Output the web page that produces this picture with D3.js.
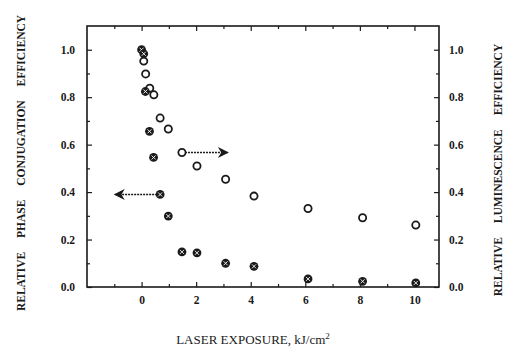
<!DOCTYPE html>
<html><head><meta charset="utf-8">
<script src="https://cdn.jsdelivr.net/npm/d3@7"></script>
<style>body{margin:0;background:#fff}svg{display:block}</style>
</head><body><svg id="c" width="506" height="350"></svg>
<script>
// Data
const phaseX = [0.0, 0.08, 0.14, 0.29, 0.44, 0.68, 0.98, 1.48, 2.03, 3.08, 4.12, 6.1, 8.1, 10.05];
const phaseY = [1.0, 0.983, 0.824, 0.656, 0.546, 0.39, 0.299, 0.148, 0.144, 0.10, 0.087, 0.034, 0.024, 0.017];
const lumX = [0.08, 0.15, 0.3, 0.45, 0.68, 0.98, 1.48, 2.03, 3.08, 4.12, 6.1, 8.1, 10.05];
const lumY = [0.952, 0.898, 0.838, 0.81, 0.712, 0.666, 0.567, 0.51, 0.454, 0.383, 0.331, 0.292, 0.261];
const xTicks = [0, 2, 4, 6, 8, 10];
const xMinor = [-1, 1, 3, 5, 7, 9];
const yTicks = [0.0, 0.2, 0.4, 0.6, 0.8, 1.0];
const yMinor = [0.1, 0.3, 0.5, 0.7, 0.9];
// arrows: [fromX, fromY, toX]
const arrowLeft = [0.68, 0.39, -0.98];
const arrowRight = [1.48, 0.567, 3.16];

const L = 87, R = 439, T = 26, B = 287;
const x = d3.scaleLinear().domain([-2, 10.9]).range([L, R]);
const y = d3.scaleLinear().domain([0, 1.1]).range([B, T]);
const svg = d3.select("#c");
const font = "'Liberation Serif', 'DejaVu Serif', serif";
const ink = "#1a1a1a";

svg.append("rect").attr("x", L).attr("y", T).attr("width", R - L).attr("height", B - T)
  .attr("fill", "none").attr("stroke", ink).attr("stroke-width", 1.6);

function fmtY(d){ return d.toFixed(1); }
// bottom
svg.append("g").attr("transform", `translate(0,${B})`)
  .call(d3.axisBottom(x).tickValues(xTicks).tickSizeInner(-5).tickSizeOuter(0).tickPadding(9).tickFormat(d3.format("d")));
svg.append("g").attr("transform", `translate(0,${B})`)
  .call(d3.axisBottom(x).tickValues(xMinor).tickSizeInner(-3).tickSizeOuter(0).tickFormat(""));
// top
svg.append("g").attr("transform", `translate(0,${T})`)
  .call(d3.axisTop(x).tickValues(xTicks).tickSizeInner(-5).tickSizeOuter(0).tickFormat(""));
svg.append("g").attr("transform", `translate(0,${T})`)
  .call(d3.axisTop(x).tickValues(xMinor).tickSizeInner(-3).tickSizeOuter(0).tickFormat(""));
// left
svg.append("g").attr("transform", `translate(${L},0)`)
  .call(d3.axisLeft(y).tickValues(yTicks).tickSizeInner(-5).tickSizeOuter(0).tickPadding(12).tickFormat(fmtY));
svg.append("g").attr("transform", `translate(${L},0)`)
  .call(d3.axisLeft(y).tickValues(yMinor).tickSizeInner(-3).tickSizeOuter(0).tickFormat(""));
// right
svg.append("g").attr("transform", `translate(${R},0)`)
  .call(d3.axisRight(y).tickValues(yTicks).tickSizeInner(-5).tickSizeOuter(0).tickPadding(10).tickFormat(fmtY));
svg.append("g").attr("transform", `translate(${R},0)`)
  .call(d3.axisRight(y).tickValues(yMinor).tickSizeInner(-3).tickSizeOuter(0).tickFormat(""));

svg.selectAll(".domain").remove();
svg.selectAll(".tick line").attr("stroke", ink).attr("stroke-width", 1.2);
svg.selectAll(".tick text").attr("font-family", font).attr("font-size", 11.5)
  .attr("font-weight", "bold").attr("fill", ink);

// arrows
const defs = svg.append("defs");
defs.append("marker").attr("id", "ah").attr("viewBox", "0 0 10 10").attr("refX", 9).attr("refY", 5)
  .attr("markerWidth", 13).attr("markerHeight", 11).attr("markerUnits", "userSpaceOnUse").attr("orient", "auto")
  .append("path").attr("d", "M0,0 L10,5 L0,10 L3,5 Z").attr("fill", ink);
[arrowLeft, arrowRight].forEach(a => {
  svg.append("line").attr("x1", x(a[0])).attr("y1", y(a[1])).attr("x2", x(a[2])).attr("y2", y(a[1]))
    .attr("stroke", ink).attr("stroke-width", 1.4).attr("stroke-dasharray", "2,1")
    .attr("marker-end", "url(#ah)");
});

// luminescence (open circles)
svg.append("g").selectAll("circle").data(lumX.map((d, i) => [d, lumY[i]])).join("circle")
  .attr("cx", d => x(d[0])).attr("cy", d => y(d[1])).attr("r", 3.6)
  .attr("fill", "#fff").attr("stroke", ink).attr("stroke-width", 1.8);

// phase conjugation (filled crossed circles)
const pg = svg.append("g").selectAll("g").data(phaseX.map((d, i) => [d, phaseY[i]])).join("g")
  .attr("transform", d => `translate(${x(d[0])},${y(d[1])})`);
pg.append("circle").attr("r", 4.4).attr("fill", ink);
pg.append("path").attr("d", "M-2,-2L2,2M-2,2L2,-2").attr("stroke", "#fff").attr("stroke-width", 0.9);

// axis titles
svg.append("text").attr("transform", "translate(25,163) rotate(-90)").attr("text-anchor", "middle")
  .attr("font-family", font).attr("font-size", 11.5).attr("font-weight", "bold").attr("fill", ink)
  .attr("word-spacing", 11)
  .text("RELATIVE PHASE CONJUGATION EFFICIENCY");
svg.append("text").attr("transform", "translate(502,170) rotate(-90)").attr("text-anchor", "middle")
  .attr("font-family", font).attr("font-size", 11.5).attr("font-weight", "bold").attr("fill", ink)
  .attr("word-spacing", 11)
  .text("RELATIVE LUMINESCENCE EFFICIENCY");
const xt = svg.append("text").attr("x", 253).attr("y", 344).attr("text-anchor", "middle")
  .attr("font-family", font).attr("font-size", 13).attr("fill", ink);
xt.append("tspan").text("LASER EXPOSURE, kJ/cm");
xt.append("tspan").attr("dy", -5).attr("font-size", 9).text("2");
</script></body></html>
